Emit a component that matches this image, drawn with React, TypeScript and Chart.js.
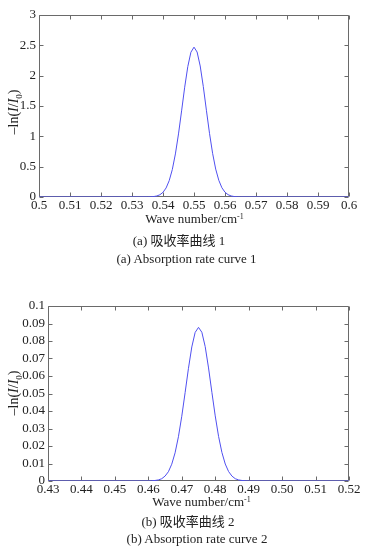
import React, { useEffect, useRef } from "react";
import { Chart, registerables } from "chart.js";

Chart.register(...registerables);

// ---- Data: curve 1 ----
const wave1 = [
  0.5, 0.52, 0.535, 0.536, 0.537, 0.538, 0.539, 0.54, 0.541, 0.542, 0.543, 0.544, 0.545, 0.546,
  0.547, 0.548, 0.549, 0.55, 0.551, 0.552, 0.553, 0.554, 0.555, 0.556, 0.557, 0.558, 0.559, 0.56,
  0.561, 0.562, 0.563, 0.564, 0.565, 0.58, 0.6,
];
const absorb1 = [
  0, 0, 0.001, 0.003, 0.007, 0.017, 0.037, 0.077, 0.149, 0.269, 0.452, 0.71, 1.04, 1.42, 1.81,
  2.15, 2.386, 2.47, 2.39, 2.16, 1.82, 1.43, 1.05, 0.72, 0.46, 0.275, 0.152, 0.079, 0.038, 0.017,
  0.007, 0.003, 0.001, 0, 0,
];
const xTicks1 = [0.5, 0.51, 0.52, 0.53, 0.54, 0.55, 0.56, 0.57, 0.58, 0.59, 0.6];
const xLabels1 = ["0.5", "0.51", "0.52", "0.53", "0.54", "0.55", "0.56", "0.57", "0.58", "0.59", "0.6"];
const yTicks1 = [0, 0.5, 1, 1.5, 2, 2.5, 3];
const yLabels1 = ["0", "0.5", "1", "1.5", "2", "2.5", "3"];

// ---- Data: curve 2 ----
const wave2 = [
  0.43, 0.45, 0.46, 0.461, 0.462, 0.463, 0.464, 0.465, 0.466, 0.467, 0.468, 0.469, 0.47, 0.471,
  0.472, 0.473, 0.474, 0.475, 0.476, 0.477, 0.478, 0.479, 0.48, 0.481, 0.482, 0.483, 0.484, 0.485,
  0.486, 0.487, 0.488, 0.489, 0.49, 0.505, 0.52,
];
const absorb2 = [
  0, 0, 0, 0.0001, 0.0003, 0.0006, 0.0013, 0.0028, 0.0053, 0.0096, 0.0161, 0.0253, 0.037, 0.0505,
  0.0644, 0.0766, 0.0849, 0.0878, 0.085, 0.0768, 0.0646, 0.0507, 0.0372, 0.0255, 0.0163, 0.0097,
  0.0054, 0.0028, 0.0013, 0.0006, 0.0003, 0.0001, 0, 0, 0,
];
const xTicks2 = [0.43, 0.44, 0.45, 0.46, 0.47, 0.48, 0.49, 0.5, 0.51, 0.52];
const xLabels2 = ["0.43", "0.44", "0.45", "0.46", "0.47", "0.48", "0.49", "0.50", "0.51", "0.52"];
const yTicks2 = [0, 0.01, 0.02, 0.03, 0.04, 0.05, 0.06, 0.07, 0.08, 0.09, 0.1];
const yLabels2 = ["0", "0.01", "0.02", "0.03", "0.04", "0.05", "0.06", "0.07", "0.08", "0.09", "0.1"];

const SERIF = '"Liberation Serif", "Times New Roman", serif';
const CJK = '"Liberation Serif", "Noto Sans CJK SC", serif';
const LINE_COLOR = "#5050f0";
const FRAME_COLOR = "#6a6a6a";

const framePlugin = {
  id: "frame",
  beforeDatasetsDraw(chart: any) {
    const { ctx, chartArea } = chart;
    const { left, right, top, bottom } = chartArea;
    const x = chart.scales.x;
    const y = chart.scales.y;
    ctx.save();
    ctx.strokeStyle = FRAME_COLOR;
    ctx.lineWidth = 1;
    ctx.beginPath();
    const L = Math.round(left) + 0.5;
    const R = Math.round(right) - 0.5;
    const T = Math.round(top) + 0.5;
    const B = Math.round(bottom) - 0.5;
    ctx.rect(L, T, R - L, B - T);
    const len = 4;
    x.ticks.forEach((t: any) => {
      const px = Math.round(x.getPixelForValue(t.value)) + 0.5;
      ctx.moveTo(px, B);
      ctx.lineTo(px, B - len);
      ctx.moveTo(px, T);
      ctx.lineTo(px, T + len);
    });
    y.ticks.forEach((t: any) => {
      const py = Math.round(y.getPixelForValue(t.value)) + 0.5;
      ctx.moveTo(L, py);
      ctx.lineTo(L + len, py);
      ctx.moveTo(R, py);
      ctx.lineTo(R - len, py);
    });
    ctx.stroke();
    ctx.restore();
  },
};

type Cfg = {
  xs: number[];
  ys: number[];
  xTicks: number[];
  xLabels: string[];
  yTicks: number[];
  yLabels: string[];
  yWidth: number;
  padTop: number;
  height: number;
  plotHeight: number;
};

function makeChart(canvas: HTMLCanvasElement, c: Cfg) {
  const data = c.xs.map((v, i) => ({ x: v, y: c.ys[i] }));
  return new Chart(canvas, {
    type: "line",
    data: {
      datasets: [
        {
          data,
          borderColor: LINE_COLOR,
          borderWidth: 1,
          pointRadius: 0,
          tension: 0,
          fill: false,
        },
      ],
    },
    plugins: [framePlugin],
    options: {
      animation: false,
      responsive: false,
      maintainAspectRatio: false,
      layout: { padding: { top: c.padTop, right: 18, left: 0, bottom: 0 } },
      plugins: { legend: { display: false }, tooltip: { enabled: false }, title: { display: false } },
      scales: {
        x: {
          type: "linear",
          min: c.xTicks[0],
          max: c.xTicks[c.xTicks.length - 1],
          grid: { display: false, drawTicks: false },
          border: { display: false },
          afterBuildTicks: (s: any) => {
            s.ticks = c.xTicks.map((v) => ({ value: v }));
          },
          afterFit: (s: any) => {
            s.height = c.height - c.padTop - c.plotHeight;
          },
          ticks: {
            autoSkip: false,
            maxRotation: 0,
            minRotation: 0,
            padding: 1,
            color: "#222",
            font: { family: SERIF, size: 13 },
            callback: (_v: any, i: number) => c.xLabels[i],
          },
        },
        y: {
          type: "linear",
          min: c.yTicks[0],
          max: c.yTicks[c.yTicks.length - 1],
          grid: { display: false, drawTicks: false },
          border: { display: false },
          afterBuildTicks: (s: any) => {
            s.ticks = c.yTicks.map((v) => ({ value: v }));
          },
          afterFit: (s: any) => {
            s.width = c.yWidth;
          },
          ticks: {
            autoSkip: false,
            padding: 3,
            color: "#222",
            font: { family: SERIF, size: 13 },
            callback: (_v: any, i: number) => c.yLabels[i],
          },
        },
      },
    } as any,
  });
}

function Caption(props: { cx: number; cy: number; text: React.ReactNode; family?: string }) {
  return (
    <div
      style={{
        position: "absolute",
        left: props.cx - 120,
        top: props.cy - 8,
        width: 240,
        height: 16,
        lineHeight: "16px",
        textAlign: "center",
        fontFamily: props.family || SERIF,
        fontSize: 13,
        color: "#222",
        whiteSpace: "nowrap",
      }}
    >
      {props.text}
    </div>
  );
}

function YLabel(props: { cx: number; cy: number }) {
  return (
    <div
      style={{
        position: "absolute",
        left: props.cx,
        top: props.cy,
        transform: "translate(-50%, -50%) rotate(-90deg)",
        fontFamily: SERIF,
        fontSize: 14,
        lineHeight: "16px",
        color: "#222",
        whiteSpace: "nowrap",
      }}
    >
      –ln(<i>I</i>/<i>I</i>
      <sub style={{ fontSize: 9, lineHeight: 0 }}>0</sub>)
    </div>
  );
}

const waveTitle = (
  <span>
    Wave number/cm<sup style={{ fontSize: 8, lineHeight: 0, verticalAlign: "4px" }}>-1</sup>
  </span>
);

export default function App() {
  const ref1 = useRef<HTMLCanvasElement>(null);
  const ref2 = useRef<HTMLCanvasElement>(null);

  useEffect(() => {
    const c1 = makeChart(ref1.current!, {
      xs: wave1,
      ys: absorb1,
      xTicks: xTicks1,
      xLabels: xLabels1,
      yTicks: yTicks1,
      yLabels: yLabels1,
      yWidth: 39,
      padTop: 15,
      height: 215,
      plotHeight: 182,
    });
    const c2 = makeChart(ref2.current!, {
      xs: wave2,
      ys: absorb2,
      xTicks: xTicks2,
      xLabels: xLabels2,
      yTicks: yTicks2,
      yLabels: yLabels2,
      yWidth: 48,
      padTop: 16,
      height: 209,
      plotHeight: 175,
    });
    return () => {
      c1.destroy();
      c2.destroy();
    };
  }, []);

  return (
    <div
      style={{
        position: "absolute",
        left: 0,
        top: 0,
        width: 367,
        height: 552,
        background: "#fff",
        overflow: "hidden",
      }}
    >
      <canvas ref={ref1} width={367} height={215} style={{ position: "absolute", left: 0, top: 0, width: 367, height: 215 }} />
      <canvas ref={ref2} width={367} height={209} style={{ position: "absolute", left: 0, top: 290, width: 367, height: 209 }} />
      <YLabel cx={14} cy={112} />
      <YLabel cx={14} cy={393} />
      <Caption cx={194.5} cy={219} text={waveTitle} />
      <Caption cx={179} cy={241} text="(a) 吸收率曲线 1" family={CJK} />
      <Caption cx={186.5} cy={259} text="(a) Absorption rate curve 1" />
      <Caption cx={201.5} cy={502} text={waveTitle} />
      <Caption cx={188} cy={521.5} text="(b) 吸收率曲线 2" family={CJK} />
      <Caption cx={197} cy={539} text="(b) Absorption rate curve 2" />
    </div>
  );
}
